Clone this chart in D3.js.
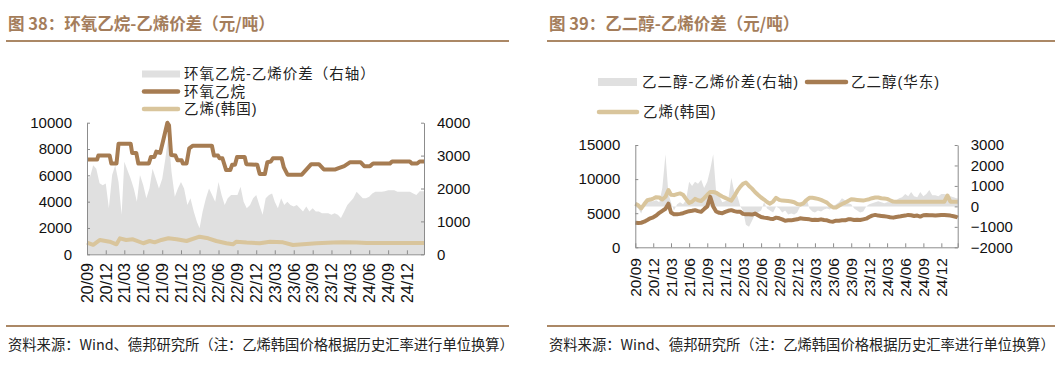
<!DOCTYPE html>
<html><head><meta charset="utf-8">
<script src="https://cdn.jsdelivr.net/npm/d3@7"></script>
<style>
body{margin:0;background:#fff;}
svg{display:block;}
</style></head><body>
<svg id="c" width="1063" height="366"></svg>
<script>
// ---------------- data ----------------
const xTickLabels = ["20/09","20/12","21/03","21/06","21/09","21/12","22/03","22/06","22/09","22/12","23/03","23/06","23/09","23/12","24/03","24/06","24/09","24/12"];
const leftTicksL = [0,2000,4000,6000,8000,10000];
const leftTicksR = [0,1000,2000,3000,4000];
const rightTicksL = [0,5000,10000,15000];
const rightTicksR = [-2000,-1000,0,1000,2000,3000];

// Chart 38: EO price (step breakpoints)
const eoDates = ["2020-09-01","2020-10-20","2020-10-26","2020-12-20","2020-12-28","2021-01-22","2021-02-01","2021-04-01","2021-04-08","2021-04-28","2021-05-08","2021-06-28","2021-07-08","2021-07-25","2021-08-03","2021-08-22","2021-09-08","2021-09-26","2021-10-04","2021-10-14","2021-11-04","2021-11-14","2021-12-04","2021-12-10","2021-12-28","2022-01-10","2022-01-28","2022-04-30","2022-05-10","2022-05-30","2022-06-06","2022-06-20","2022-07-08","2022-07-28","2022-08-06","2022-08-20","2022-08-30","2022-10-06","2022-10-14","2022-12-06","2022-12-18","2023-01-12","2023-01-24","2023-02-10","2023-02-20","2023-04-03","2023-04-14","2023-05-02","2023-07-10","2023-08-25","2023-10-01","2023-10-25","2023-12-20","2024-01-05","2024-02-01","2024-03-01","2024-04-20","2024-05-08","2024-06-05","2024-06-20","2024-09-10","2024-09-20","2024-12-15","2024-12-25","2025-01-20","2025-02-01","2025-02-22"];
const eoValues = [7200,7200,7500,7500,6900,6900,8400,8400,7700,7700,6900,6900,7400,7400,7800,7700,8800,10000,9800,7550,7500,7150,7150,6900,6900,8050,8250,8250,7500,7500,7300,7300,6400,6400,6800,6800,7400,7400,6850,6800,6100,6100,7000,7050,7300,7300,6600,6050,6050,6850,6850,6450,6450,6550,6700,7000,7000,6700,6700,6900,6900,7050,7050,6900,6900,7050,7050];

// Chart 38: ethylene (Korea)
const ethDates1 = ["2020-09-01","2020-10-01","2020-11-03","2020-12-20","2021-01-22","2021-02-08","2021-03-10","2021-04-12","2021-06-01","2021-07-02","2021-07-26","2021-08-28","2021-10-01","2021-11-10","2021-12-28","2022-03-01","2022-04-12","2022-05-21","2022-07-09","2022-08-10","2022-08-27","2022-10-15","2022-12-18","2023-02-06","2023-04-10","2023-05-28","2023-08-02","2023-09-19","2023-12-10","2024-01-27","2024-04-01","2024-05-19","2025-02-22"];
const ethValues1 = [890,720,1090,960,760,1215,1090,1140,840,1010,910,1090,1215,1140,1010,1340,1215,1010,840,760,960,890,840,960,910,710,785,840,890,910,890,860,860];

// Chart 38: EO - ethylene spread (right axis), semi-monthly readings (1st & 16th), last = 2025-02-22
const eoSpread = [2310,2360,2710,2600,2160,2100,2150,1400,2410,2710,
 2200,1200,2815,2560,2300,2000,1600,2410,2100,1700,
 2000,2600,2300,2000,2300,2900,3620,2510,1750,2000,
 2200,2000,1500,1700,1300,990,790,1300,1700,2000,
 1800,1600,2200,1800,1500,1700,1800,1800,1800,2055,
 1600,1400,1500,1700,1800,1500,1200,1700,1800,1850,
 1600,1400,1700,1500,1600,1500,1450,1500,1400,1300,
 1450,1300,1400,1300,1300,1250,1250,1250,1200,1250,
 1200,1100,1300,1500,1600,1700,1900,1800,1700,1700,
 1750,1850,1900,1900,1900,1920,1950,1950,1950,1900,
 1900,1900,1900,1900,1850,1800,1920,1920,1920];

// Chart 39: MEG (East China), semi-monthly
const megValues = [3600,3550,3600,3750,4000,4250,4400,4650,5050,5350,
 5650,6400,5100,4850,4850,4900,5000,5150,5300,5350,
 5450,5300,5200,5600,6000,7400,6000,5250,5050,5000,
 5200,5350,5450,5300,5200,5200,4900,4850,4850,4800,
 4950,4700,4450,4350,4300,4200,4150,4350,4250,4100,
 3900,3950,3950,4050,4100,4250,4200,4150,4100,4000,
 4050,4000,4100,4000,3950,3800,3750,3900,3900,3950,
 3950,4100,4100,4000,4050,4000,4100,4200,4450,4650,
 4750,4650,4600,4550,4500,4400,4350,4450,4500,4600,
 4650,4750,4700,4600,4650,4500,4700,4750,4700,4700,
 4650,4700,4750,4750,4700,4650,4550,4450,4350];

// Chart 39: ethylene (Korea), semi-monthly
const ethValues2 = [6400,6150,5700,6300,6900,7000,7150,7350,7300,7000,
 7400,8400,7700,7650,7800,7900,7700,7100,6500,6700,
 7100,6900,6800,7200,7700,8100,8100,8000,7700,7450,
 7250,7050,6850,7500,8300,8900,9300,9500,9000,8600,
 8100,7700,7300,7000,6650,6400,6700,7250,6950,6850,
 6820,6790,6720,6600,6350,6250,6450,6900,7250,7250,
 7200,7100,6950,6750,6550,6150,5850,5850,6100,6350,
 6550,6800,7050,7000,6950,6900,6850,6950,7050,7200,
 7300,7300,7200,7150,7100,6900,6700,6680,6680,6680,
 6680,6680,6680,6680,6680,6680,6680,6680,6680,6680,
 6680,6680,6680,6680,7600,6680,6680,6680,6680];

// Chart 39: MEG - ethylene spread (right axis), semi-monthly
const megSpread = [0,-100,-350,100,200,250,250,300,200,900,
 2550,600,200,-200,100,200,100,300,1200,1000,
 1200,1100,1300,900,1200,1800,2550,700,500,200,
 250,300,1400,700,500,0,-200,-900,-1000,-700,
 -400,-300,-200,200,-100,-200,-300,0,-100,-300,
 -200,-400,-350,-400,-300,0,100,450,-100,-250,
 -300,-200,-250,-150,-100,-150,0,100,200,400,
 300,150,100,-100,-200,-300,-250,0,100,150,
 200,250,200,150,200,200,250,300,400,450,
 600,500,700,500,450,700,500,600,800,550,
 550,500,600,600,550,500,450,400,400];

// ---------------- drawing ----------------
const C_DARK = "#a67c52", C_LIGHT = "#d9c59c", C_GRAY = "#e0e0e0";
const C_TITLE = "#a47d5b", C_RULE = "#ab8866", C_AXIS = "#8c8c8c";
const CJK = "'Noto Sans CJK SC','Noto Sans',sans-serif";
const LEG = "'Liberation Sans','Noto Sans CJK SC',sans-serif";
const LAT = "'Liberation Sans',Arial,sans-serif";
const parse = d3.timeParse("%Y-%m-%d");
const startDate = new Date(2020, 8, 1), endDate = new Date(2025, 1, 22);
const semiDates = d3.range(eoSpread.length).map(i => i < eoSpread.length - 1 ? new Date(2020, 8 + Math.floor(i / 2), i % 2 ? 16 : 1) : endDate);
const quarterDates = xTickLabels.map((s, k) => new Date(2020, 8 + 3 * k, 1));

const svg = d3.select("#c");

function header(x0, x1, title) {
  svg.append("text").attr("x", x0 + 2).attr("y", 24).attr("dy", "0.35em")
    .attr("font-family", CJK).attr("font-size", 16.5).attr("font-weight", "bold")
    .attr("fill", C_TITLE).text(title);
  svg.append("line").attr("x1", x0).attr("x2", x1).attr("y1", 41).attr("y2", 41)
    .attr("stroke", C_RULE).attr("stroke-width", 2);
  svg.append("line").attr("x1", x0).attr("x2", x1).attr("y1", 326).attr("y2", 326)
    .attr("stroke", C_RULE).attr("stroke-width", 2);
  svg.append("text").attr("x", x0 + 2).attr("y", 345).attr("dy", "0.35em")
    .attr("font-family", CJK).attr("font-size", 14.3).attr("fill", "#222")
    .text("资料来源：Wind、德邦研究所（注：乙烯韩国价格根据历史汇率进行单位换算）");
}

function axes(x, yl, yr, lt, rt, bottomY, labelTop, xFont) {
  const [x0, x1] = x.range();
  const gl = svg.append("g").attr("transform", `translate(${x0},0)`)
    .call(d3.axisLeft(yl).tickValues(lt).tickSize(-3).tickSizeOuter(0).tickPadding(15).tickFormat(d3.format("d")));
  const gr = svg.append("g").attr("transform", `translate(${x1},0)`)
    .call(d3.axisRight(yr).tickValues(rt).tickSize(-3).tickSizeOuter(0).tickPadding(13).tickFormat(d3.format("d")));
  const gb = svg.append("g").attr("transform", `translate(0,${bottomY})`)
    .call(d3.axisBottom(x).tickValues(quarterDates.concat([endDate])).tickSize(-4).tickSizeOuter(0).tickFormat(""));
  [gl, gr, gb].forEach(g => {
    g.selectAll("path,line").attr("stroke", C_AXIS);
    g.selectAll("text").attr("font-family", LAT).attr("font-size", 15).attr("fill", "#111");
  });
  svg.append("g").selectAll("text").data(quarterDates).join("text")
    .attr("transform", d => `translate(${x(d)},${labelTop}) rotate(-90)`)
    .attr("text-anchor", "end").attr("dy", "0.36em")
    .attr("font-family", LAT).attr("font-size", xFont).attr("fill", "#111")
    .text((d, i) => xTickLabels[i]);
}

function legendRect(x, y, w, h) {
  svg.append("rect").attr("x", x).attr("y", y - h / 2).attr("width", w).attr("height", h).attr("fill", C_GRAY);
}
function legendLine(x, y, w, color) {
  svg.append("line").attr("x1", x + 2).attr("x2", x + w - 2).attr("y1", y).attr("y2", y)
    .attr("stroke", color).attr("stroke-width", 4.5).attr("stroke-linecap", "round");
}
function legendText(x, y, t) {
  svg.append("text").attr("x", x).attr("y", y).attr("dy", "0.35em")
    .attr("font-family", LEG).attr("font-size", 14.5).attr("letter-spacing", 1)
    .attr("fill", "#222").text(t);
}

// ----- Chart 38 -----
header(6, 509, "图 38：环氧乙烷-乙烯价差（元/吨）");
{
  const x = d3.scaleTime().domain([startDate, endDate]).range([87, 424]);
  const yl = d3.scaleLinear().domain([0, 10000]).range([254.3, 122.7]);
  const yr = d3.scaleLinear().domain([0, 4000]).range([254.3, 122.7]);
  svg.append("path").datum(eoSpread)
    .attr("fill", C_GRAY)
    .attr("d", d3.area().x((d, i) => x(semiDates[i])).y0(yr(0)).y1(d => yr(d)));
  svg.append("path").datum(ethValues1)
    .attr("fill", "none").attr("stroke", C_LIGHT).attr("stroke-width", 4).attr("stroke-linejoin", "round")
    .attr("d", d3.line().x((d, i) => x(parse(ethDates1[i]))).y(d => yl(d)));
  svg.append("path").datum(eoValues)
    .attr("fill", "none").attr("stroke", C_DARK).attr("stroke-width", 4).attr("stroke-linejoin", "round")
    .attr("d", d3.line().x((d, i) => x(parse(eoDates[i]))).y(d => yl(d)));
  axes(x, yl, yr, leftTicksL, leftTicksR, 254.3, 263, 16);

  legendRect(142, 74, 38, 7);
  legendText(184, 74, "环氧乙烷-乙烯价差（右轴）");
  legendLine(142, 91.5, 38, C_DARK);
  legendText(184, 91.5, "环氧乙烷");
  legendLine(142, 109, 38, C_LIGHT);
  legendText(184, 109, "乙烯(韩国)");
}

// ----- Chart 39 -----
header(547, 1055, "图 39：乙二醇-乙烯价差（元/吨）");
{
  const x = d3.scaleTime().domain([startDate, endDate]).range([635.3, 957.7]);
  const yl = d3.scaleLinear().domain([0, 15000]).range([247.3, 145]);
  const yr = d3.scaleLinear().domain([-2000, 3000]).range([247.3, 145]);
  svg.append("path").datum(megSpread)
    .attr("fill", C_GRAY)
    .attr("d", d3.area().x((d, i) => x(semiDates[i])).y0(yr(0)).y1(d => yr(d)));
  svg.append("path").datum(ethValues2)
    .attr("fill", "none").attr("stroke", C_LIGHT).attr("stroke-width", 4).attr("stroke-linejoin", "round")
    .attr("d", d3.line().x((d, i) => x(semiDates[i])).y(d => yl(d)));
  svg.append("path").datum(megValues)
    .attr("fill", "none").attr("stroke", C_DARK).attr("stroke-width", 4).attr("stroke-linejoin", "round")
    .attr("d", d3.line().x((d, i) => x(semiDates[i])).y(d => yl(d)));
  axes(x, yl, yr, rightTicksL, rightTicksR, 247.3, 258, 15.5);

  legendRect(598, 82, 39, 8);
  legendText(642, 82, "乙二醇-乙烯价差(右轴)");
  legendLine(805, 82, 43, C_DARK);
  legendText(851, 82, "乙二醇(华东)");
  legendLine(597, 112, 42, C_LIGHT);
  legendText(643, 112, "乙烯(韩国)");
}
</script></body></html>
